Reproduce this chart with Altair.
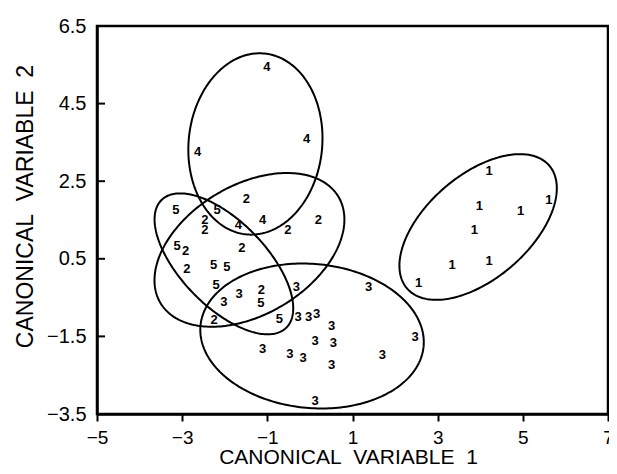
import numpy as np
import pandas as pd
import altair as alt

# ---- group scores (canonical variable 1, canonical variable 2) ----
g1_x = [4.21, 3.98, 4.95, 5.61, 3.86, 3.34, 4.21, 2.55]
g1_y = [2.77, 1.86, 1.74, 2.02, 1.24, 0.34, 0.44, -0.13]
g2_x = [-1.49, -2.47, -2.47, -0.52, 0.20, -2.92, -1.60, -2.89, -1.14, -2.25]
g2_y = [2.03, 1.50, 1.24, 1.24, 1.50, 0.70, 0.77, 0.23, -0.30, -1.08]
g3_x = [-2.02, -1.66, -0.32, -0.28, -0.03, 0.16, 0.51, 1.38, 0.12, 0.55,
        -1.11, -0.47, -0.16, 0.51, 1.70, 2.47, 0.12]
g3_y = [-0.61, -0.41, -0.23, -0.99, -0.99, -0.92, -1.23, -0.22, -1.61, -1.66,
        -1.83, -1.95, -2.05, -2.24, -1.98, -1.52, -3.16]
g4_x = [-1.01, -0.08, -2.64, -1.68, -1.11]
g4_y = [5.44, 3.58, 3.24, 1.37, 1.50]
g5_x = [-3.15, -2.18, -3.12, -2.26, -1.95, -2.20, -1.15, -0.72]
g5_y = [1.76, 1.76, 0.83, 0.34, 0.30, -0.18, -0.65, -1.06]

# ---- ellipses: centre and two conjugate half-axis vectors (data units) ----
ell_group = ["1", "2", "3", "4", "5"]
ell_cx = [3.95, -1.42, 0.05, -1.28, -2.02]
ell_cy = [1.32, 0.73, -1.49, 3.46, 0.37]
ell_ux = [1.68, 2.10, 2.62, 0.22, 1.47]
ell_uy = [1.57, 1.35, -0.26, 2.33, -1.64]
ell_vx = [-0.77, -0.75, 0.145, -1.56, 0.70]
ell_vy = [1.03, 1.45, 1.85, 0.18, 0.78]

x_ticks = [-5, -3, -1, 1, 3, 5, 7]
y_ticks = [-3.5, -1.5, 0.5, 2.5, 4.5, 6.5]
y_inner_ticks = [-1.5, 0.5, 2.5, 4.5]

x_title = "CANONICAL\u00a0\u00a0VARIABLE\u00a0\u00a01"
y_title = "CANONICAL\u00a0\u00a0VARIABLE\u00a0\u00a02"

# ---- tables ----
rows = []
for lab, xs_, ys_ in [("1", g1_x, g1_y), ("2", g2_x, g2_y), ("3", g3_x, g3_y),
                      ("4", g4_x, g4_y), ("5", g5_x, g5_y)]:
    for a, b in zip(xs_, ys_):
        rows.append({"x": a, "y": b, "g": lab})
pts = pd.DataFrame(rows)

t = np.linspace(0, 2 * np.pi, 241)
erows = []
for k, g in enumerate(ell_group):
    for i, tt in enumerate(t):
        erows.append({
            "g": g, "i": i,
            "x": ell_cx[k] + ell_ux[k] * np.cos(tt) + ell_vx[k] * np.sin(tt),
            "y": ell_cy[k] + ell_uy[k] * np.cos(tt) + ell_vy[k] * np.sin(tt),
        })
ell = pd.DataFrame(erows)
yt = pd.DataFrame({"y": y_inner_ticks})

FONT = "Liberation Sans"
xs = alt.Scale(domain=[-5, 7], nice=False, zero=False)
ys = alt.Scale(domain=[-3.5, 6.5], nice=False, zero=False)

xaxis = alt.Axis(values=x_ticks, format="d", grid=False, title=x_title,
                 labelFont=FONT, labelFontSize=19, labelColor="black", labelPadding=7,
                 labelFlush=False, labelOverlap=False,
                 tickSize=7, tickWidth=2, tickColor="black",
                 domainColor="black", domainWidth=2.5,
                 titleFont=FONT, titleFontSize=21, titleFontWeight="normal", titleColor="black",
                 titleX=251, titleY=49, titleBaseline="alphabetic", titleAlign="center")
yaxis = alt.Axis(values=y_ticks, format=".1f", grid=False, title=y_title,
                 labelFont=FONT, labelFontSize=20, labelColor="black", labelPadding=11,
                 labelFlush=False, labelOverlap=False,
                 ticks=False, tickSize=0,
                 domainColor="black", domainWidth=2.5,
                 titleFont=FONT, titleFontSize=23, titleFontWeight="normal", titleColor="black",
                 titleX=-72, titleY=180, titleAngle=270, titleBaseline="middle",
                 titleAlign="center")

ellipses = alt.Chart(ell).mark_line(color="black", strokeWidth=2).encode(
    x=alt.X("x:Q", scale=xs, axis=xaxis),
    y=alt.Y("y:Q", scale=ys, axis=yaxis),
    detail="g:N",
    order="i:Q",
)

labels = alt.Chart(pts).mark_text(font=FONT, fontSize=13, fontWeight="bold",
                                  color="black", align="center", baseline="middle").encode(
    x=alt.X("x:Q", scale=xs, axis=xaxis),
    y=alt.Y("y:Q", scale=ys, axis=yaxis),
    text="g:N",
)

inner_ticks = alt.Chart(yt).mark_rule(color="black", strokeWidth=2).encode(
    y=alt.Y("y:Q", scale=ys, axis=yaxis),
    x=alt.value(0),
    x2=alt.value(8),
)

chart = alt.layer(ellipses, labels, inner_ticks).properties(
    width=511, height=388,
    padding={"left": 89, "top": 18, "right": 1, "bottom": 52},
    autosize=alt.AutoSizeParams(type="none"),
    background="white",
).configure_view(stroke="black", strokeWidth=2.5)

chart.save("out.html", embed_options={"renderer": "svg", "actions": False})
